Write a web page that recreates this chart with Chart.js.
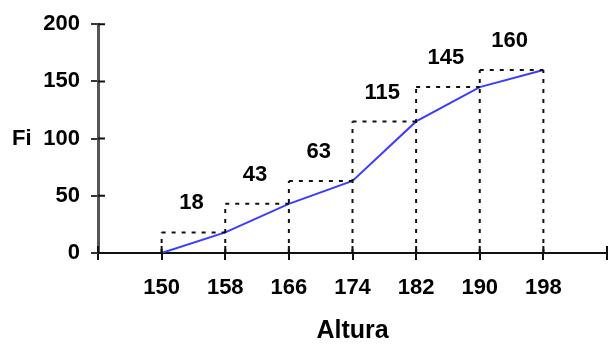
<!DOCTYPE html>
<html>
<head>
<meta charset="utf-8">
<script src="https://cdn.jsdelivr.net/npm/chart.js@4/dist/chart.umd.min.js"></script>
<style>
  body { margin: 0; background: #fff; }
  #wrap { width: 608px; height: 344px; }
</style>
</head>
<body>
<div id="wrap"><canvas id="ojiva"></canvas></div>
<script>
// limites de clase (altura) y frecuencia acumulada Fi
const limites = [150, 158, 166, 174, 182, 190, 198];
const fi = [0, 18, 43, 63, 115, 145, 160];
const ticksY = [0, 50, 100, 150, 200];

const fuente = '"Liberation Sans", Arial, sans-serif';
Chart.defaults.font.family = fuente;
Chart.defaults.font.size = 22;
Chart.defaults.font.weight = "bold";
Chart.defaults.color = "#000";

// ojiva
const puntosOjiva = limites.map((l, i) => ({ x: l, y: fi[i] }));

// lineas punteadas: verticales y techos de cada intervalo
const verticales = [];
limites.forEach((l, i) => {
  const alto = Math.max(fi[i], i + 1 < fi.length ? fi[i + 1] : 0);
  verticales.push({ x: l, y: 0 }, { x: l, y: alto }, { x: l, y: null });
});
const techos = [];
for (let i = 1; i < limites.length; i++) {
  techos.push({ x: limites[i - 1], y: fi[i] }, { x: limites[i], y: fi[i] }, { x: limites[i], y: null });
}

const punteado = {
  type: "line",
  borderColor: "#111",
  borderWidth: 2,
  borderDash: [4, 6],
  pointRadius: 0,
  spanGaps: false,
  fill: false,
};

const extras = {
  id: "extras",
  afterDatasetsDraw(chart) {
    const { ctx, scales: { x, y } } = chart;
    ctx.save();
    // marcas hacia dentro
    ctx.strokeStyle = "#111";
    ctx.lineWidth = 2;
    ctx.beginPath();
    x.ticks.forEach((t) => {
      const px = x.getPixelForValue(t.value);
      ctx.moveTo(px, y.bottom);
      ctx.lineTo(px, y.bottom - 7);
    });
    y.ticks.forEach((t) => {
      const py = y.getPixelForValue(t.value);
      ctx.moveTo(x.left, py);
      ctx.lineTo(x.left + 7, py);
    });
    ctx.stroke();

    // valores de Fi sobre cada intervalo
    ctx.fillStyle = "#000";
    ctx.font = "bold 22px " + fuente;
    ctx.textAlign = "center";
    ctx.textBaseline = "middle";
    for (let i = 1; i < limites.length; i++) {
      const cx = (x.getPixelForValue(limites[i - 1]) + x.getPixelForValue(limites[i])) / 2 - 2;
      ctx.fillText(String(fi[i]), cx, y.getPixelForValue(fi[i]) - 29);
    }

    // titulo del eje y, horizontal
    ctx.textAlign = "left";
    ctx.fillText("Fi", 12, (y.top + y.bottom) / 2);
    ctx.restore();
  },
};

new Chart(document.getElementById("ojiva"), {
  type: "scatter",
  data: {
    datasets: [
      Object.assign({ data: verticales }, punteado),
      Object.assign({ data: techos }, punteado),
      {
        type: "line",
        data: puntosOjiva,
        borderColor: "#3c3cff",
        borderWidth: 2,
        pointRadius: 0,
        fill: false,
      },
    ],
  },
  options: {
    responsive: true,
    maintainAspectRatio: false,
    animation: false,
    layout: { padding: { top: 23, right: 1, left: 0, bottom: 0 } },
    plugins: { legend: { display: false }, tooltip: { enabled: false } },
    scales: {
      x: {
        type: "linear",
        min: 142,
        max: 206,
        afterFit(scale) {
          scale.height = 91;
          scale.paddingLeft = 0;
          scale.paddingRight = 0;
        },
        ticks: {
          stepSize: 8,
          padding: 15,
          maxRotation: 0,
          callback: (v) => (limites.includes(v) ? v : ""),
        },
        grid: { drawOnChartArea: false, tickLength: 7, color: "#111", lineWidth: 2 },
        border: { color: "#111", width: 2 },
        title: {
          display: true,
          text: "Altura",
          font: { size: 25, weight: "bold", lineHeight: 1 },
          padding: { top: 0, bottom: 0 },
        },
      },
      y: {
        min: 0,
        max: 200,
        afterFit(scale) { scale.width = 98; },
        afterBuildTicks(scale) { scale.ticks = ticksY.map((v) => ({ value: v })); },
        ticks: { padding: 11 },
        grid: { drawOnChartArea: false, tickLength: 7, color: "#333", lineWidth: 2 },
        border: { color: "#555", width: 3 },
      },
    },
  },
  plugins: [extras],
});
</script>
</body>
</html>
